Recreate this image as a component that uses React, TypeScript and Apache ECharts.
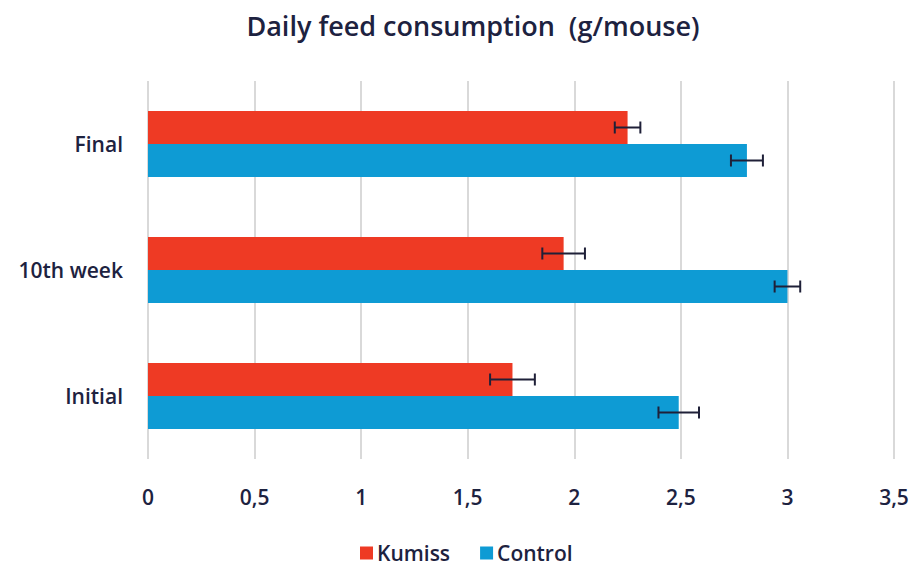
import React, { useEffect, useRef } from "react";
import * as echarts from "echarts";

const categories = ["Initial", "10th week", "Final"];
const kumiss = [1.71, 1.95, 2.25];
const kumissErr = [0.105, 0.1, 0.06];
const control = [2.49, 3.0, 2.81];
const controlErr = [0.095, 0.06, 0.075];
const xTicks = { min: 0, max: 3.5, interval: 0.5 };

const TEXT = "#1d2240";
const FONT = "'Open Sans', sans-serif";
const BAR = 33;

function errSeries(name: string, vals: number[], errs: number[], sign: number) {
  return {
    type: "custom",
    name: name + " err",
    z: 10,
    encode: { x: [1, 2], y: 0 },
    data: vals.map((v, i) => [i, v - errs[i], v + errs[i]]),
    renderItem: (_p: any, api: any) => {
      const cat = api.value(0);
      const a = api.coord([api.value(1), cat]);
      const b = api.coord([api.value(2), cat]);
      const y = a[1] + (sign * BAR) / 2;
      const st = { stroke: "#1f2038", lineWidth: 2 };
      return {
        type: "group",
        children: [
          { type: "line", shape: { x1: a[0], y1: y, x2: b[0], y2: y }, style: st },
          { type: "line", shape: { x1: a[0], y1: y - 6, x2: a[0], y2: y + 6 }, style: st },
          { type: "line", shape: { x1: b[0], y1: y - 6, x2: b[0], y2: y + 6 }, style: st },
        ],
      };
    },
  };
}

export default function App() {
  const ref = useRef<HTMLDivElement>(null);
  useEffect(() => {
    if (!ref.current) return;
    const chart = echarts.init(ref.current, undefined, { renderer: "svg" });
    chart.setOption({
      animation: false,
      backgroundColor: "#ffffff",
      title: {
        text: "Daily feed consumption  (g/mouse)",
        left: 468,
        top: 7,
        textAlign: "center",
        textStyle: { fontFamily: FONT, fontSize: 27, fontWeight: 600, color: TEXT },
      },
      legend: {
        data: ["Kumiss", "Control"],
        left: 360,
        top: 542,
        padding: 0,
        itemWidth: 13,
        itemHeight: 13,
        itemGap: 30,
        icon: "rect",
        textStyle: {
          fontFamily: FONT,
          fontSize: 21,
          fontWeight: 600,
          color: TEXT,
          lineHeight: 22,
          padding: [0, 0, 0, -1],
        },
      },
      grid: { left: 148, right: 20, top: 81, bottom: 108, containLabel: false },
      xAxis: {
        type: "value",
        min: xTicks.min,
        max: xTicks.max,
        interval: xTicks.interval,
        axisLine: { show: false },
        axisTick: { show: false },
        splitLine: { lineStyle: { color: "#d9d9d9", width: 2 } },
        axisLabel: {
          margin: 27,
          fontFamily: FONT,
          fontSize: 21,
          fontWeight: 600,
          color: TEXT,
          formatter: (v: number) => String(v).replace(".", ","),
        },
      },
      yAxis: {
        type: "category",
        data: categories,
        axisLine: { show: false },
        axisTick: { show: false },
        axisLabel: { margin: 25, fontFamily: FONT, fontSize: 21, fontWeight: 600, color: TEXT },
      },
      series: [
        {
          name: "Kumiss",
          type: "bar",
          data: kumiss,
          barWidth: BAR,
          barGap: "0%",
          itemStyle: { color: "#ee3a24" },
        },
        {
          name: "Control",
          type: "bar",
          data: control,
          barWidth: BAR,
          barGap: "0%",
          itemStyle: { color: "#0e9bd4" },
        },
        errSeries("Kumiss", kumiss, kumissErr, -1),
        errSeries("Control", control, controlErr, 1),
      ],
    });
    return () => chart.dispose();
  }, []);
  return (
    <div
      ref={ref}
      style={{ position: "fixed", left: 0, top: 0, width: 914, height: 567, background: "#fff" }}
    />
  );
}
